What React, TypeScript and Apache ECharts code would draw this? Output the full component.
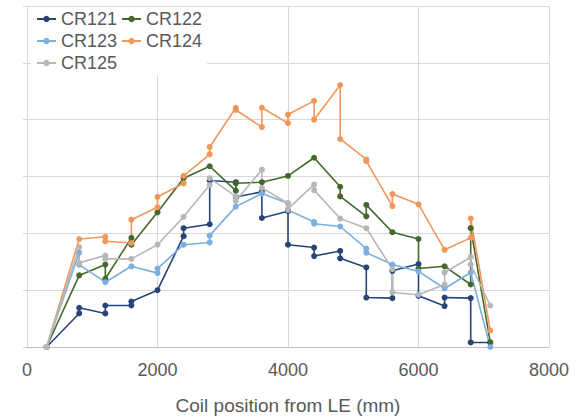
import React, { useEffect, useRef } from "react";
import * as echarts from "echarts";

const seriesNames = ["CR121", "CR122", "CR123", "CR124", "CR125"];
const seriesColors = ["#264478", "#43682B", "#7CAFDD", "#F1975A", "#B7B7B7"];

const cr121X = [300, 800, 800, 1200, 1200, 1600, 1600, 2000, 2400, 2400, 2800, 2800, 3200, 3200, 3600, 3600, 4000, 4000, 4400, 4400, 4800, 4800, 5200, 5200, 5600, 5600, 6000, 6000, 6400, 6400, 6800, 6800, 7100];
const cr121Y = [0, 0.59, 0.69, 0.59, 0.73, 0.73, 0.8, 1.0, 1.95, 2.09, 2.16, 2.93, 2.9, 2.64, 2.73, 2.27, 2.39, 1.8, 1.75, 1.6, 1.69, 1.56, 1.4, 0.87, 0.86, 1.34, 1.46, 0.9, 0.72, 0.87, 0.86, 0.08, 0.08];

const cr122X = [300, 800, 1200, 1200, 1600, 1600, 2000, 2400, 2800, 3200, 3200, 3600, 4000, 4400, 4800, 4800, 5200, 5200, 5600, 6000, 6000, 6400, 6800, 6800, 7100];
const cr122Y = [0, 1.26, 1.45, 1.2, 1.92, 1.8, 2.37, 2.97, 3.18, 2.75, 2.88, 2.9, 3.01, 3.33, 2.82, 2.65, 2.3, 2.5, 2.02, 1.9, 1.38, 1.42, 1.1, 2.09, 0.08];

const cr123X = [300, 800, 800, 1200, 1600, 2000, 2000, 2400, 2800, 2800, 3200, 3600, 4000, 4000, 4400, 4400, 4800, 5200, 5200, 5600, 6000, 6400, 6800, 7100];
const cr123Y = [0, 1.66, 1.45, 1.14, 1.42, 1.3, 1.38, 1.8, 1.84, 1.96, 2.47, 2.7, 2.53, 2.41, 2.2, 2.17, 2.12, 1.73, 1.66, 1.45, 1.33, 1.03, 1.31, 0];

const cr124X = [300, 800, 1200, 1200, 1600, 1600, 2000, 2000, 2400, 2400, 2800, 2800, 3200, 3200, 3600, 3600, 4000, 4000, 4400, 4400, 4800, 4800, 5200, 5200, 5600, 5600, 6000, 6400, 6800, 6800, 7100];
const cr124Y = [0, 1.9, 1.94, 1.86, 1.83, 2.24, 2.46, 2.64, 2.88, 3.01, 3.39, 3.52, 4.21, 4.17, 3.87, 4.21, 3.94, 4.09, 4.33, 4.0, 4.61, 3.66, 3.3, 3.27, 2.48, 2.69, 2.51, 1.71, 1.92, 2.26, 0.29];

const cr125X = [300, 800, 800, 1200, 1200, 1600, 2000, 2400, 2800, 2800, 3200, 3200, 3600, 3600, 4000, 4000, 4400, 4400, 4800, 5200, 5600, 5600, 6000, 6400, 6400, 6800, 6800, 7100];
const cr125Y = [0, 1.76, 1.48, 1.61, 1.55, 1.55, 1.8, 2.29, 2.85, 2.97, 2.65, 2.57, 3.12, 2.8, 2.53, 2.43, 2.86, 2.76, 2.26, 2.09, 1.37, 0.96, 0.92, 1.1, 1.31, 1.58, 1.45, 0.73];

const allX = [cr121X, cr122X, cr123X, cr124X, cr125X];
const allY = [cr121Y, cr122Y, cr123Y, cr124Y, cr125Y];

const xAxisName = "Coil position from LE (mm)";
const FONT = "'Liberation Sans', Arial, sans-serif";

export default function App() {
  const ref = useRef<HTMLDivElement>(null);
  useEffect(() => {
    if (!ref.current) return;
    const chart = echarts.init(ref.current, null, { renderer: "svg" });
    chart.setOption({
      animation: false,
      backgroundColor: "#ffffff",
      textStyle: { fontFamily: FONT },
      grid: { left: 27, right: 31, top: 6, bottom: 70, containLabel: false },
      legend: {
        data: seriesNames,
        left: 31,
        top: 7,
        width: 180,
        orient: "horizontal",
        padding: [3, 5],
        itemGap: 4,
        itemWidth: 19,
        itemHeight: 8,
        backgroundColor: "#ffffff",
        textStyle: { fontSize: 18, color: "#595959", fontFamily: FONT, width: 61 },
      },
      xAxis: {
        type: "value",
        min: 0,
        max: 8000,
        interval: 2000,
        name: xAxisName,
        nameLocation: "middle",
        nameGap: 49,
        nameTextStyle: { fontSize: 19, color: "#595959", fontFamily: FONT },
        axisLine: { show: true, lineStyle: { color: "#bfbfbf", width: 1 } },
        axisTick: { show: false },
        axisLabel: {
          fontSize: 18,
          color: "#595959",
          margin: 14,
          fontFamily: FONT,
          formatter: (v: number) => String(v),
        },
        splitLine: { show: true, lineStyle: { color: "#d9d9d9", width: 1 } },
      },
      yAxis: {
        type: "value",
        min: 0,
        max: 6,
        interval: 1,
        axisLine: { show: true, lineStyle: { color: "#d9d9d9", width: 1 } },
        axisTick: { show: true, length: 4, lineStyle: { color: "#d9d9d9" } },
        axisLabel: { show: false },
        splitLine: { show: true, lineStyle: { color: "#d9d9d9", width: 1 } },
      },
      series: seriesNames.map((name, i) => ({
        name,
        type: "line",
        data: allX[i].map((x, j) => [x, allY[i][j]]),
        symbol: "circle",
        symbolSize: 6,
        showSymbol: true,
        color: seriesColors[i],
        lineStyle: { width: 1.6, color: seriesColors[i] },
        itemStyle: { color: seriesColors[i] },
      })),
    });
    return () => chart.dispose();
  }, []);
  return <div ref={ref} style={{ width: 580, height: 420, position: "absolute", left: 0, top: 0 }} />;
}
